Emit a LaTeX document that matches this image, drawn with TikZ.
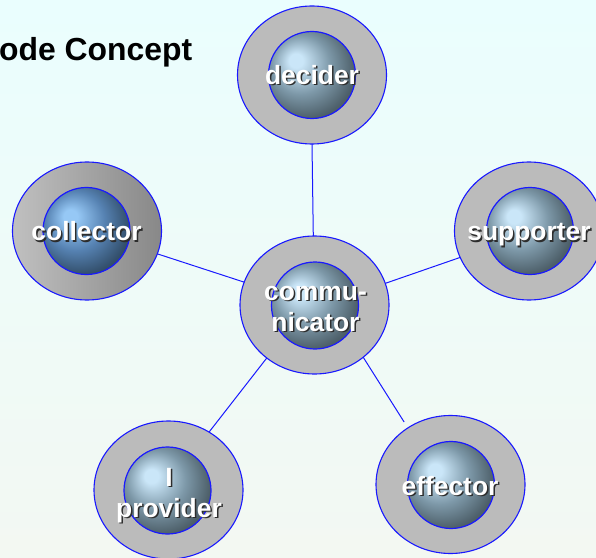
\documentclass[tikz,border=0pt]{standalone}
\usepackage{fontspec}
\setmainfont{Liberation Sans}
\usetikzlibrary{shapes.geometric}

\definecolor{bgtop}{RGB}{234,254,254}
\definecolor{bgbot}{RGB}{243,248,242}
\definecolor{ringgray}{RGB}{187,187,187}
\definecolor{ringlight}{RGB}{192,192,192}
\definecolor{ringdark}{RGB}{136,136,136}
\definecolor{rim}{RGB}{25,25,255}
\definecolor{shadowc}{RGB}{45,45,45}
\definecolor{orbhl}{RGB}{202,230,248}
\definecolor{orbmid}{RGB}{125,152,168}
\definecolor{orbdk}{RGB}{76,94,104}
\definecolor{bluehl}{RGB}{150,200,245}
\definecolor{bluemid}{RGB}{86,130,178}
\definecolor{bluedk}{RGB}{50,78,106}

% glossy sphere fills, lit from the upper left
\pgfdeclareradialshading{orbslate}{\pgfpoint{-10bp}{9bp}}{color(0bp)=(orbhl); color(4bp)=(orbhl); color(17bp)=(orbmid); color(29bp)=(orbdk); color(50bp)=(orbdk)}
\pgfdeclareradialshading{orbblue}{\pgfpoint{-10bp}{9bp}}{color(0bp)=(bluehl); color(4bp)=(bluehl); color(17bp)=(bluemid); color(29bp)=(bluedk); color(50bp)=(bluedk)}

\begin{document}
\begin{tikzpicture}[x=1bp,y=-1bp,
  ring/.style={ellipse, draw=rim, line width=1.1bp, fill=ringgray,
    minimum width=149bp, minimum height=138bp, inner sep=0pt, outer sep=0pt},
  orb/.style={circle, draw=rim, line width=1.2bp, minimum size=87bp,
    inner sep=0pt, shading=orbslate},
  link/.style={draw=rim, line width=1bp},
  lab/.style={font=\fontsize{26.5}{31}\selectfont\bfseries, text=white,
    align=center, anchor=base, inner sep=0pt},
  labshadow/.style={lab, text=shadowc}]

\useasboundingbox (0,0) rectangle (596,558);
\clip (0,0) rectangle (596,558);
\shade[top color=bgtop, bottom color=bgbot] (0,0) rectangle (596,558);

% title
\node[font=\fontsize{32}{36}\selectfont\bfseries, anchor=base west,
  inner sep=0pt] (title) at (-1,61) {ode Concept};

% outer rings
\node[ring] (dec)  at (312,75)    {};
\node[ring, left color=ringlight, right color=ringdark]
           (coll) at (87,231)    {};
\node[ring] (sup)  at (529,231)   {};
\node[ring] (comm) at (314.5,305) {};
\node[ring] (prov) at (168.5,490) {};
\node[ring] (eff)  at (450.5,484.5) {};

% links from the communicator to the other units
\draw[link] (dec.south) -- (comm.91);
\draw[link] (coll.-18) -- (comm.162);
\draw[link] (sup.201.5) -- (comm.17);
\draw[link] (prov.55) -- (comm.228.6);
\draw[link, shorten >=7bp] (comm.-47.6) -- (eff.127);

% inner spheres
\node[orb] (decO)  at (312,75)    {};
\node[orb, shading=orbblue] (collO) at (86.5,231) {};
\node[orb] (supO)  at (530,231)   {};
\node[orb] (commO) at (315,305.5) {};
\node[orb] (provO) at (167.5,490.5) {};
\node[orb] (effO)  at (451,485)   {};

% labels with drop shadows (base = baseline of the last line)
\node[labshadow] (decS)  at (313.5,86)  {decider};
\node[lab]       (decT)  at (312,84.5)  {decider};
\node[labshadow] (collS) at (88,242.2)  {collector};
\node[lab]       (collT) at (86.5,240.7) {collector};
\node[labshadow] (supS)  at (530.5,242.2) {supporter};
\node[lab]       (supT)  at (529,240.7) {supporter};
\node[labshadow] (commS) at (317,332.5) {commu-\\nicator};
\node[lab]       (commT) at (315.5,331) {commu-\\nicator};
\node[labshadow] (provS) at (170.5,518.5) {I\\provider};
\node[lab]       (provT) at (169,517)   {I\\provider};
\node[labshadow] (effS)  at (451.5,496.5) {effector};
\node[lab]       (effT)  at (450,495)   {effector};
\end{tikzpicture}
\end{document}
